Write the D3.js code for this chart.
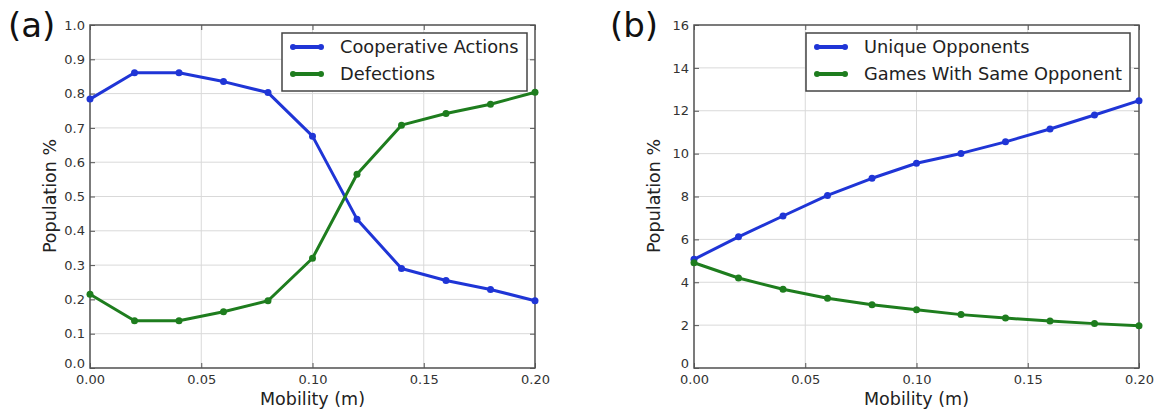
<!DOCTYPE html>
<html>
<head>
<meta charset="utf-8">
<script src="https://cdn.jsdelivr.net/npm/d3@7"></script>
<style>
  body { margin: 0; background: #fff; }
  text { font-family: "DejaVu Sans", sans-serif; }
</style>
</head>
<body>
<div id="chart"></div>
<script>
// mobility values shared by both panels
var mobility = [0.00, 0.02, 0.04, 0.06, 0.08, 0.10, 0.12, 0.14, 0.16, 0.18, 0.20];

// panel (a)
var cooperative = [0.784, 0.861, 0.861, 0.835, 0.803, 0.676, 0.434, 0.290, 0.255, 0.229, 0.196];
var defections = [0.215, 0.138, 0.138, 0.164, 0.196, 0.320, 0.565, 0.708, 0.742, 0.769, 0.804];

// panel (b)
var uniqueOpp = [5.07, 6.12, 7.09, 8.05, 8.85, 9.55, 10.01, 10.55, 11.15, 11.80, 12.47];
var sameOpp = [4.91, 4.20, 3.67, 3.25, 2.95, 2.72, 2.49, 2.33, 2.19, 2.07, 1.97];

var xTicks = [0, 0.05, 0.10, 0.15, 0.20];
var yTicksA = [0, 0.1, 0.2, 0.3, 0.4, 0.5, 0.6, 0.7, 0.8, 0.9, 1.0];
var yTicksB = [0, 2, 4, 6, 8, 10, 12, 14, 16];

var blue = "#1f35d6", green = "#1e7d1e";

var svg = d3.select("#chart").append("svg")
    .attr("width", 1158).attr("height", 412);

function panel(opts) {
    var x = d3.scaleLinear().domain([0, 0.2]).range([opts.left, opts.right]);
    var y = d3.scaleLinear().domain(opts.yDomain).range([368, 25]);
    var g = svg.append("g");

    // grid
    g.selectAll(".gx").data(xTicks).enter().append("line")
        .attr("x1", d => x(d)).attr("x2", d => x(d))
        .attr("y1", 25).attr("y2", 368)
        .style("stroke", "#d9d9d9").style("stroke-width", 1);
    g.selectAll(".gy").data(opts.yTicks).enter().append("line")
        .attr("x1", opts.left).attr("x2", opts.right)
        .attr("y1", d => y(d)).attr("y2", d => y(d))
        .style("stroke", "#d9d9d9").style("stroke-width", 1);

    // axes (ticks inside, both sides like matplotlib)
    g.append("g").attr("transform", "translate(0,368)")
        .call(d3.axisBottom(x).tickValues(xTicks).tickFormat(d3.format(".2f")).tickSizeInner(-5).tickSizeOuter(0).tickPadding(7));
    var ay = g.append("g").attr("transform", "translate(" + opts.left + ",0)")
        .call(d3.axisLeft(y).tickValues(opts.yTicks).tickFormat(opts.yFmt).tickSizeInner(-5).tickSizeOuter(0).tickPadding(5));
    // lift the bottom y label a little so it clears the 0.00 below it
    ay.selectAll(".tick").filter(d => d === 0).select("text").attr("dy", "-0.05em");
    g.append("g").attr("transform", "translate(0,25)")
        .call(d3.axisTop(x).tickValues(xTicks).tickFormat("").tickSizeInner(-5).tickSizeOuter(0));
    g.append("g").attr("transform", "translate(" + opts.right + ",0)")
        .call(d3.axisRight(y).tickValues(opts.yTicks).tickFormat("").tickSizeInner(-5).tickSizeOuter(0));
    g.selectAll(".domain").remove();
    g.selectAll(".tick line").style("stroke", "#555");
    g.selectAll(".tick text").style("font-size", "13px").style("fill", "#333");

    g.append("rect")
        .attr("x", opts.left).attr("y", 25)
        .attr("width", opts.right - opts.left).attr("height", 343)
        .style("fill", "none").style("stroke", "#555").style("stroke-width", 1.5);

    // series
    opts.series.forEach(function (s) {
        var line = d3.line().x((d, i) => x(mobility[i])).y(d => y(d));
        g.append("path").datum(s.values).attr("d", line)
            .style("fill", "none").style("stroke", s.color).style("stroke-width", 3)
            .style("stroke-linejoin", "round");
        g.selectAll(null).data(s.values).enter().append("circle")
            .attr("cx", (d, i) => x(mobility[i])).attr("cy", d => y(d)).attr("r", 3.5)
            .style("fill", s.color);
    });

    // legend
    var lg = g.append("g");
    lg.append("rect")
        .attr("x", opts.legend.x1).attr("y", 33)
        .attr("width", opts.legend.x2 - opts.legend.x1).attr("height", 58)
        .style("fill", "#fff").style("stroke", "#444").style("stroke-width", 1.5);
    opts.series.forEach(function (s, i) {
        var yy = 47 + i * 27;
        var lx = opts.legend.x1 + 11;
        lg.append("line").attr("x1", lx).attr("x2", lx + 28).attr("y1", yy).attr("y2", yy)
            .style("stroke", s.color).style("stroke-width", 4).style("stroke-linecap", "round");
        lg.append("circle").attr("cx", lx).attr("cy", yy).attr("r", 3).style("fill", s.color);
        lg.append("circle").attr("cx", lx + 28).attr("cy", yy).attr("r", 3).style("fill", s.color);
        lg.append("text").attr("x", lx + 47).attr("y", yy + 6)
            .style("font-size", "17.8px").style("fill", "#222").text(s.name);
    });

    // labels
    g.append("text").attr("x", (opts.left + opts.right) / 2).attr("y", 405)
        .attr("text-anchor", "middle").style("font-size", "17.5px").style("fill", "#222")
        .text("Mobility (m)");
    g.append("text")
        .attr("transform", "translate(" + opts.yLabelX + ",196) rotate(-90)")
        .attr("text-anchor", "middle").style("font-size", "17.5px").style("fill", "#222")
        .text("Population %");
    g.append("text").attr("x", opts.tagX).attr("y", 37)
        .style("font-size", "34px").style("fill", "#111").text(opts.tag);
}

panel({
    left: 90, right: 535, yDomain: [0, 1], yTicks: yTicksA, yFmt: d3.format(".1f"),
    yLabelX: 56, tag: "(a)", tagX: 8,
    legend: {x1: 282, x2: 527},
    series: [
        {name: "Cooperative Actions", values: cooperative, color: blue},
        {name: "Defections", values: defections, color: green}
    ]
});

panel({
    left: 694, right: 1139, yDomain: [0, 16], yTicks: yTicksB, yFmt: d3.format("d"),
    yLabelX: 660, tag: "(b)", tagX: 610,
    legend: {x1: 806, x2: 1130},
    series: [
        {name: "Unique Opponents", values: uniqueOpp, color: blue},
        {name: "Games With Same Opponent", values: sameOpp, color: green}
    ]
});
</script>
</body>
</html>
